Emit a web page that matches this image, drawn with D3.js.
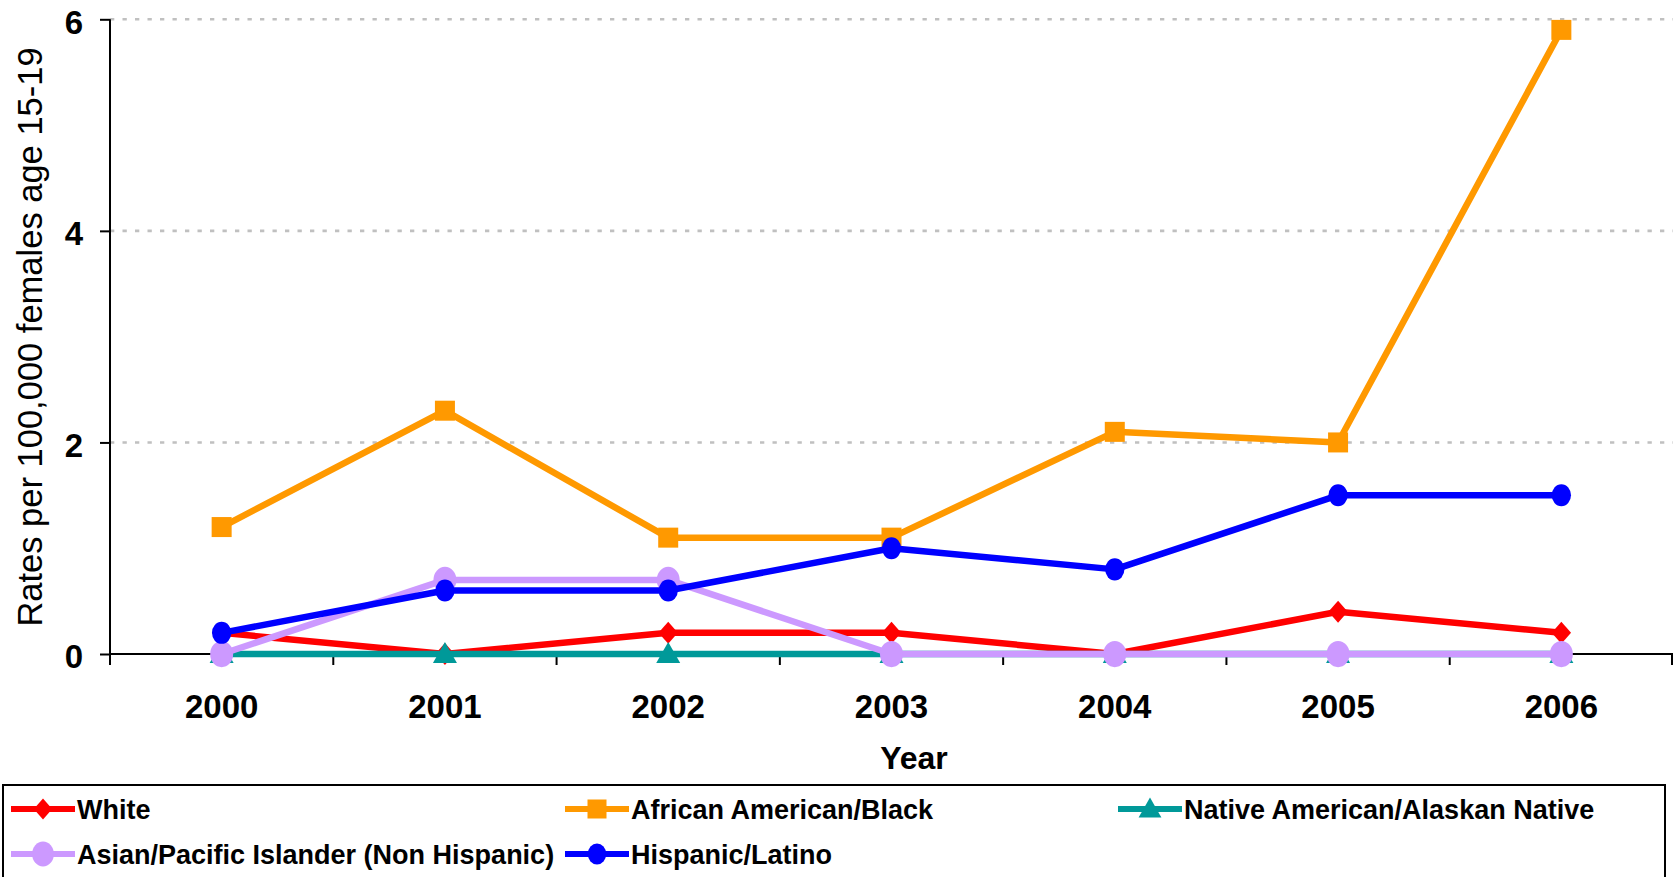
<!DOCTYPE html>
<html><head><meta charset="utf-8">
<script src="https://cdn.jsdelivr.net/npm/d3@7"></script>
<style>html,body{margin:0;padding:0;background:#fff;}svg{display:block;font-family:"Liberation Sans",Arial,sans-serif;}</style>
</head><body>
<script>
const years = ["2000","2001","2002","2003","2004","2005","2006"];
const white = [0.2, 0, 0.2, 0.2, 0, 0.4, 0.2];
const black = [1.2, 2.3, 1.1, 1.1, 2.1, 2.0, 5.9];
const native = [0, 0, 0, 0, 0, 0, 0];
const asian = [0, 0.7, 0.7, 0, 0, 0, 0];
const hispanic = [0.2, 0.6, 0.6, 1.0, 0.8, 1.5, 1.5];
const yTicks = [0, 2, 4, 6];
const seriesNames = ["White","African American/Black","Native American/Alaskan Native","Asian/Pacific Islander (Non Hispanic)","Hispanic/Latino"];

const W = 1673, H = 877;
const series = [
  {name: seriesNames[0], values: white, color: "#FF0000", marker: "diamond", size: 11},
  {name: seriesNames[1], values: black, color: "#FF9900", marker: "square", size: 10},
  {name: seriesNames[2], values: native, color: "#009999", marker: "triangle", size: 12},
  {name: seriesNames[3], values: asian, color: "#CC99FF", marker: "circle", size: 12.5},
  {name: seriesNames[4], values: hispanic, color: "#0000FF", marker: "circle", size: 10.5}
];

const svg = d3.select("body").append("svg").attr("width", W).attr("height", H);
const x0 = 110, x1 = 1673, yTop = 19.3, yBot = 654;
const band = d3.scaleBand().domain(years).range([x0, x1]);
const x = d3.scalePoint().domain(years).range([x0, x1]).padding(0.5);
const y = d3.scaleLinear().domain([0, 6]).range([yBot, yTop]);

// grid
svg.append("g").selectAll("line").data(yTicks.filter(d => d > 0)).join("line")
  .attr("x1", x0).attr("x2", x1).attr("y1", d => y(d)).attr("y2", d => y(d))
  .attr("stroke", "#C0C0C0").attr("stroke-width", 2.6).attr("stroke-dasharray", "4.3 8.2");

// y axis
const yAxis = svg.append("g").attr("transform", `translate(${x0},0)`)
  .call(d3.axisLeft(y).tickValues(yTicks).tickSize(10).tickPadding(17).tickFormat(d3.format("d")));
yAxis.select(".domain").attr("stroke", "#000").attr("stroke-width", 2).attr("d", `M0,${yTop}V${yBot}`);
yAxis.selectAll(".tick line").attr("stroke", "#000").attr("stroke-width", 2);
yAxis.selectAll(".tick text").attr("font-size", 33).attr("font-weight", "bold").attr("fill", "#000")
  .attr("font-family", "Liberation Sans, Arial, sans-serif").attr("dy", "0.42em");

// x axis
const xAxis = svg.append("g").attr("transform", `translate(0,${yBot})`);
xAxis.append("line").attr("x1", x0).attr("x2", x1).attr("stroke", "#000").attr("stroke-width", 2);
const edges = years.map(d => band(d)).concat([x1 - 1]);
xAxis.selectAll("line.tk").data(edges).join("line").attr("class", "tk")
  .attr("x1", d => d).attr("x2", d => d).attr("y1", 0).attr("y2", 11)
  .attr("stroke", "#000").attr("stroke-width", 2);
xAxis.selectAll("text").data(years).join("text")
  .attr("x", d => x(d)).attr("y", 64).attr("text-anchor", "middle")
  .attr("font-size", 33).attr("font-weight", "bold").text(d => d);

// axis titles
svg.append("text").attr("x", 914).attr("y", 769).attr("text-anchor", "middle")
  .attr("font-size", 32).attr("font-weight", "bold").text("Year");
svg.append("text").attr("transform", `translate(42,337) rotate(-90)`).attr("text-anchor", "middle")
  .attr("font-size", 34.5).text("Rates per 100,000 females age 15-19");

function drawMarker(g, type, cx, cy, s, color) {
  if (type === "circle") {
    g.append("ellipse").attr("cx", cx).attr("cy", cy).attr("rx", s * 0.92).attr("ry", s * 1.05).attr("fill", color);
  } else if (type === "square") {
    g.append("rect").attr("x", cx - s).attr("y", cy - s).attr("width", 2 * s).attr("height", 2 * s).attr("fill", color);
  } else if (type === "diamond") {
    g.append("path").attr("d", `M${cx},${cy - s}L${cx + s * 0.88},${cy}L${cx},${cy + s}L${cx - s * 0.88},${cy}Z`).attr("fill", color);
  } else if (type === "triangle") {
    g.append("path").attr("d", `M${cx},${cy - s}L${cx + s},${cy + s * 0.75}L${cx - s},${cy + s * 0.75}Z`).attr("fill", color);
  }
}

const line = d3.line().x((d, i) => x(years[i])).y(d => y(d));
series.forEach(s => {
  const g = svg.append("g");
  g.append("path").attr("d", line(s.values)).attr("fill", "none").attr("stroke", s.color)
    .attr("stroke-width", 6.5).attr("stroke-linejoin", "round");
  s.values.forEach((v, i) => drawMarker(g, s.marker, x(years[i]), y(v), s.size, s.color));
});

// legend
const lg = svg.append("g");
lg.append("rect").attr("x", 3).attr("y", 785).attr("width", 1662).attr("height", 120)
  .attr("fill", "none").attr("stroke", "#000").attr("stroke-width", 2);
const legPos = [[11, 809], [565, 809], [1118, 809], [11, 854], [565, 854]];
series.forEach((s, i) => {
  const [lx, ly] = legPos[i];
  const g = lg.append("g");
  g.append("line").attr("x1", lx).attr("x2", lx + 64).attr("y1", ly).attr("y2", ly)
    .attr("stroke", s.color).attr("stroke-width", 6);
  drawMarker(g, s.marker, lx + 32, ly, s.size * 0.95, s.color);
  g.append("text").attr("x", lx + 66).attr("y", ly + 10).attr("font-size", 27).attr("font-weight", "bold").text(s.name);
});
</script>
</body></html>
